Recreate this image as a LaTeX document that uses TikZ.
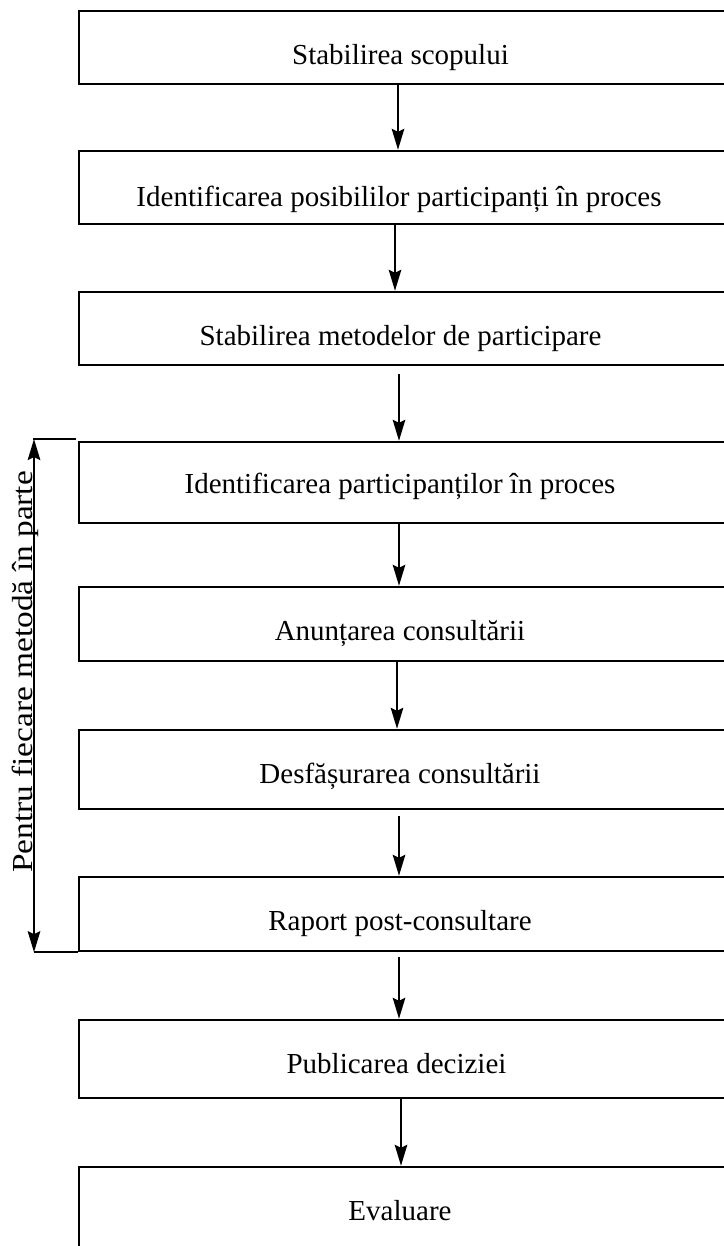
\documentclass[tikz,border=0pt]{standalone}
\usepackage{fontspec}
\setmainfont{Liberation Serif}
\usetikzlibrary{arrows.meta,calc}
\tikzset{
  box/.style={draw, line width=2.4bp, minimum width=647bp, inner sep=0pt, text width=0pt},
  txt/.style={anchor=base, inner sep=0pt, font=\fontsize{29bp}{33bp}\selectfont},
  tip/.style={Stealth[length=21bp,width=12.5bp,inset=3bp]},
  arr/.style={line width=2.4bp, -{Stealth[length=21bp,width=12.5bp,inset=3bp]}},
  brk/.style={line width=2.4bp},
  darr/.style={line width=2.4bp, {Stealth[length=21bp,width=12.5bp,inset=3bp]}-{Stealth[length=21bp,width=12.5bp,inset=3bp]}}
}
\begin{document}
\begin{tikzpicture}[x=1bp,y=-1bp]
\clip (0,0) rectangle (724,1246);
\fill[white] (0,0) rectangle (724,1246);
% boxes
\node[box, minimum height=73bp] (b1) at (402.5,47.5) {};
\node[box, minimum height=73bp] (b2) at (402.5,187.5) {};
\node[box, minimum height=73bp] (b3) at (402.5,328.5) {};
\node[box, minimum height=81bp] (b4) at (402.5,482.5) {};
\node[box, minimum height=74bp] (b5) at (402.5,624) {};
\node[box, minimum height=79bp] (b6) at (402.5,769.5) {};
\node[box, minimum height=74bp] (b7) at (402.5,914) {};
\node[box, minimum height=78bp] (b8) at (402.5,1059) {};
\node[box, minimum height=123bp] (b9) at (402.5,1228.5) {};
% labels
\node[txt] (t1) at ($(b1.north)+(-2,55)$) {Stabilirea scopului};
\node[txt] (t2) at ($(b2.north)+(-3.5,57)$) {Identificarea posibililor participanți în proces};
\node[txt] (t3) at ($(b3.north)+(-2,55)$) {Stabilirea metodelor de participare};
\node[txt] (t4) at ($(b4.north)+(-2.5,53)$) {Identificarea participanților în proces};
\node[txt] (t5) at ($(b5.north)+(-2.5,55)$) {Anunțarea consultării};
\node[txt] (t6) at ($(b6.north)+(-2.5,55)$) {Desfășurarea consultării};
\node[txt] (t7) at ($(b7.north)+(-2.5,55)$) {Raport post-consultare};
\node[txt] (t8) at ($(b8.north)+(-6,55)$) {Publicarea deciziei};
\node[txt] (t9) at ($(b9.north)+(-2.5,55)$) {Evaluare};
% arrows
\draw[arr] ($(b1.south)+(-4.5,0)$) -- ($(b2.north)+(-4.5,0)$);
\draw[arr] ($(b2.south)+(-7.5,0)$) -- ($(b3.north)+(-7.5,0)$);
\draw[arr] ($(b3.south)+(-3.5,8)$) -- ($(b4.north)+(-3.5,0)$);
\draw[arr] ($(b4.south)+(-3.5,0)$) -- ($(b5.north)+(-3.5,0)$);
\draw[arr] ($(b5.south)+(-5.5,0)$) -- ($(b6.north)+(-5.5,0)$);
\draw[arr] ($(b6.south)+(-3.5,6)$) -- ($(b7.north)+(-3.5,0)$);
\draw[arr] ($(b7.south)+(-3.5,5)$) -- ($(b8.north)+(-3.5,0)$);
\draw[arr] ($(b8.south)+(-1.5,0)$) -- ($(b9.north)+(-1.5,0)$);
% bracket
\coordinate (tl) at (34,439);
\coordinate (tr) at (76,439);
\coordinate (bl) at (tl |- b7.south west);
\draw[brk] (33,439) -- (tr);
\draw[brk] (bl) -- (b7.south west);
\draw[darr] (tl) -- (bl);
\node[txt, rotate=90] (side) at (32,672) {\scalebox{1.15}[1]{Pentru fiecare metodă în parte}};
\end{tikzpicture}
\end{document}
